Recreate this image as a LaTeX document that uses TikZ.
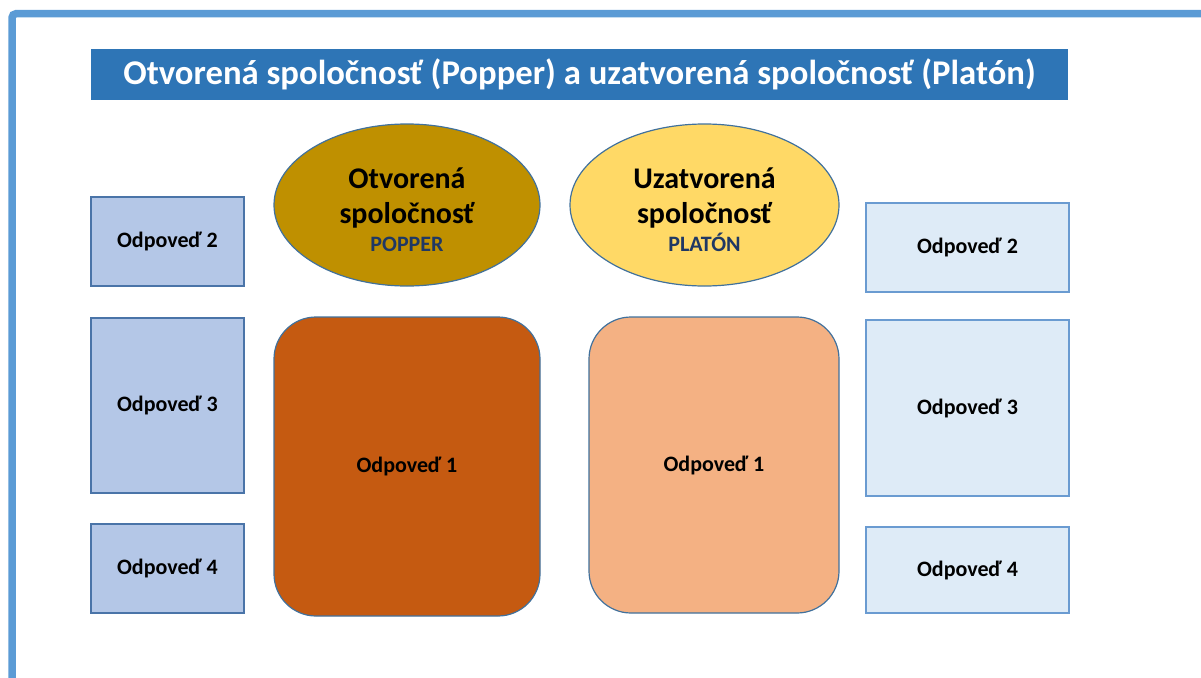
\documentclass[tikz,border=0pt]{standalone}
\usepackage{fontspec}
\setmainfont{Carlito}
\usetikzlibrary{shapes.geometric}
\definecolor{frameblue}{HTML}{5B9BD5}
\definecolor{titleblue}{HTML}{2E75B6}
\definecolor{leftfill}{HTML}{B4C7E7}
\definecolor{leftdraw}{HTML}{4A74A8}
\definecolor{rightfill}{HTML}{DEEBF7}
\definecolor{rightdraw}{HTML}{6A9BD1}
\definecolor{ellgold}{HTML}{BF9000}
\definecolor{ellyellow}{HTML}{FFD966}
\definecolor{ellborder}{HTML}{41719C}
\definecolor{rustfill}{HTML}{C55A11}
\definecolor{peachfill}{HTML}{F4B183}
\definecolor{navytext}{HTML}{1F3864}
\tikzset{
  ansbox/.style={rectangle, inner sep=0pt, outer sep=0pt, line width=1.2pt,
    font=\fontsize{22}{26}\selectfont\bfseries, text=black},
  leftbox/.style={ansbox, fill=leftfill, draw=leftdraw},
  rightbox/.style={ansbox, fill=rightfill, draw=rightdraw},
  bigell/.style={ellipse, inner sep=0pt, outer sep=0pt, draw=ellborder, line width=1.2pt,
    align=center, font=\fontsize{30}{35}\selectfont\bfseries},
  bigbox/.style={rectangle, rounded corners=42pt, inner sep=0pt, outer sep=0pt,
    draw=ellborder, line width=1.2pt, font=\fontsize{22}{26}\selectfont\bfseries}
}
\begin{document}
\begin{tikzpicture}[x=1pt,y=-1pt]
\useasboundingbox (0,0) rectangle (1201,677);
% frame
\coordinate (fa) at (12,690);
\coordinate (fb) at (12,13.7);
\coordinate (fc) at (1215,13.7);
\draw[frameblue, line width=7.5pt, rounded corners=4pt] (fa) -- (fb) -- (fc);
% title
\node[fill=titleblue, minimum width=977pt, minimum height=51pt, inner sep=0pt,
  text=white, font=\fontsize{34.7}{40}\selectfont\bfseries] (title) at (579.5,74.5)
  {\raisebox{-1.5pt}{Otvorená spoločnosť (Popper) a uzatvorená spoločnosť (Platón)}};
% ellipses
\node[bigell, fill=ellgold, minimum width=266pt, minimum height=162pt] (e1) at (407,205)
  {\rule{0pt}{31pt}Otvorená\\spoločnosť\\[-7pt]{\fontsize{22}{26}\selectfont\color{navytext}POPPER}};
\node[bigell, fill=ellyellow, minimum width=269pt, minimum height=162pt] (e2) at (704.5,205)
  {\rule{0pt}{31pt}Uzatvorená\\spoločnosť\\[-7pt]{\fontsize{22}{26}\selectfont\color{navytext}PLATÓN}};
% big rounded boxes
\node[bigbox, fill=rustfill, minimum width=266pt, minimum height=299pt] (b1) at (407,466.5) {Odpoveď 1};
\node[bigbox, fill=peachfill, minimum width=250pt, minimum height=296pt] (b2) at (714,465) {Odpoveď 1};
% left boxes
\node[leftbox, minimum width=153pt, minimum height=89pt] (l2) at (167.5,241.5) {Odpoveď 2};
\node[leftbox, minimum width=153pt, minimum height=175pt] (l3) at (167.5,405.5) {Odpoveď 3};
\node[leftbox, minimum width=153pt, minimum height=89pt] (l4) at (167.5,568.5) {Odpoveď 4};
% right boxes
\node[rightbox, minimum width=203pt, minimum height=89pt] (r2) at (967.5,247.5) {Odpoveď 2};
\node[rightbox, minimum width=203pt, minimum height=176pt] (r3) at (967.5,408) {Odpoveď 3};
\node[rightbox, minimum width=203pt, minimum height=86pt] (r4) at (967.5,570) {Odpoveď 4};
\end{tikzpicture}
\end{document}
